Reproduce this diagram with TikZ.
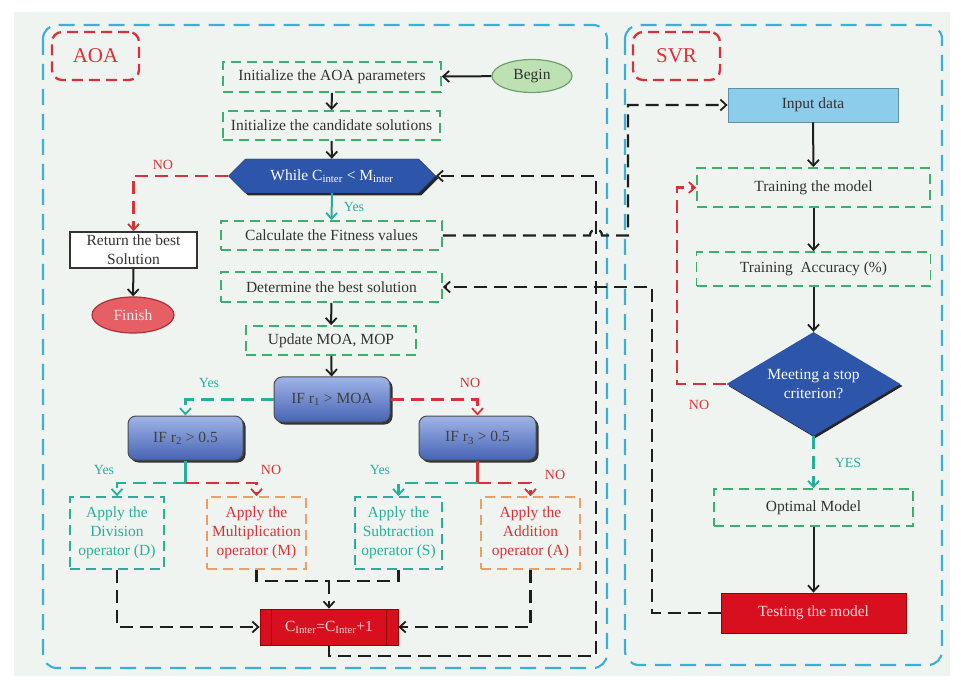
\documentclass[tikz,border=0pt]{standalone}
\usepackage{fontspec}
\setmainfont{Liberation Serif}
\usetikzlibrary{arrows.meta,shapes.geometric,shapes.symbols,shadows}
\definecolor{bgc}{RGB}{240,244,240}
\definecolor{frameblue}{RGB}{60,175,215}
\definecolor{labred}{RGB}{215,50,55}
\definecolor{boxgreen}{RGB}{60,175,110}
\definecolor{tealc}{RGB}{40,175,155}
\definecolor{orangec}{RGB}{235,160,95}
\definecolor{hexblue}{RGB}{45,85,170}
\definecolor{iftop}{RGB}{160,180,230}
\definecolor{ifbot}{RGB}{70,100,180}
\definecolor{inputblue}{RGB}{140,205,235}
\definecolor{redfill}{RGB}{215,15,30}
\definecolor{beginfill}{RGB}{190,225,180}
\definecolor{beginborder}{RGB}{110,160,110}
\definecolor{finishfill}{RGB}{230,95,100}
\definecolor{finishborder}{RGB}{170,50,55}
\definecolor{txt}{RGB}{50,50,50}
\definecolor{conc}{RGB}{30,30,30}
\newcommand\myfs{\fontsize{15.5}{19}\selectfont}
\newcommand\mysmall{\fontsize{14}{16}\selectfont}
\begin{document}
\begin{tikzpicture}[x=1pt,y=-1pt,
  gbox/.style={draw=boxgreen, dash pattern=on 10pt off 6pt, line width=1.7pt, inner sep=0pt, text=txt, font=\myfs, align=center},
  tbox/.style={draw=tealc, dash pattern=on 10pt off 6pt, line width=1.7pt, inner sep=0pt, text=tealc, font=\myfs, align=center},
  obox/.style={draw=orangec, dash pattern=on 10pt off 6pt, line width=1.7pt, inner sep=0pt, text=labred, font=\myfs, align=center},
  ifbox/.style={rounded corners=8pt, top color=iftop, bottom color=ifbot, draw=black!70, line width=1pt, inner sep=0pt, text=black!75, font=\myfs,
     drop shadow={shadow xshift=2.5pt, shadow yshift=-2.5pt, fill=black!80, opacity=1}},
  redbox/.style={fill=redfill, draw=red!60!black, line width=0.8pt, inner sep=0pt, text=white!85!red, font=\myfs},
  lab/.style={draw=labred, dash pattern=on 11pt off 6pt, rounded corners=10pt, line width=2.3pt, minimum width=87pt, minimum height=48pt, text=labred, font=\fontsize{21}{24}\selectfont},
  frame/.style={draw=frameblue, dash pattern=on 16pt off 9pt, line width=2.1pt, rounded corners=14pt},
  conn/.style={line width=2.2pt, dash pattern=on 13pt off 7pt, conc},
  redconn/.style={line width=2.2pt, dash pattern=on 13pt off 7pt, labred},
  tealconn/.style={line width=2.2pt, dash pattern=on 13pt off 7pt, tealc},
  arr/.style={-{Straight Barb[length=6pt,width=11pt,line width=1.8pt]}},
  solidarr/.style={line width=2pt, conc, arr},
  tlab/.style={font=\mysmall, inner sep=0pt}
]
\useasboundingbox (0,0) rectangle (961,684);
\fill[white] (0,0) rectangle (961,684);
\fill[bgc] (14,12) rectangle (950,676);

% frames
\draw[frame] (43,25) rectangle (607,668);
\draw[frame] (625,25) rectangle (942,665);
\node[lab] (aoal) at (95.5,56) {AOA};
\node[lab] (svrl) at (676.5,56) {SVR};

% AOA nodes
\node[gbox, minimum width=218pt, minimum height=30pt] (init1) at (332,77) {Initialize the AOA parameters};
\node[ellipse, fill=beginfill, draw=beginborder, line width=1.2pt, minimum width=80pt, minimum height=33pt, inner sep=0pt, text=txt, font=\myfs] (begin) at (532,76) {Begin};
\node[gbox, minimum width=217pt, minimum height=29pt] (init2) at (331.5,125.5) {Initialize the candidate solutions};
\node[signal, signal to=west and east, signal pointer angle=90, fill=hexblue, draw=hexblue!70!black, minimum width=207pt, minimum height=34pt, inner sep=0pt, text=white, font=\myfs,
   drop shadow={shadow xshift=2.5pt, shadow yshift=-2.5pt, fill=black!85, opacity=1}] (hex) at (332,176) {While C\textsubscript{inter} < M\textsubscript{inter}};
\node[draw=black!80, fill=white, line width=1.5pt, minimum width=127pt, minimum height=36pt, inner sep=0pt, text=txt, font=\myfs, align=center] (ret) at (133.5,250) {Return the best\\Solution};
\node[ellipse, fill=finishfill, draw=finishborder, line width=1.2pt, minimum width=82pt, minimum height=36pt, inner sep=0pt, text=white!90!red, font=\myfs] (finish) at (133,315) {Finish};
\node[gbox, minimum width=221pt, minimum height=29pt] (calc) at (331.5,235.5) {Calculate the Fitness values};
\node[gbox, minimum width=221pt, minimum height=30pt] (det) at (331.5,287) {Determine the best solution};
\node[gbox, minimum width=170pt, minimum height=29pt] (upd) at (331,340.5) {Update MOA, MOP};
\node[ifbox, minimum width=116pt, minimum height=45pt] (if1) at (332,399.5) {IF r\textsubscript{1} > MOA};
\node[ifbox, minimum width=115pt, minimum height=44pt] (if2) at (185.5,438) {IF r\textsubscript{2} > 0.5};
\node[ifbox, minimum width=117pt, minimum height=44pt] (if3) at (477.5,438) {IF r\textsubscript{3} > 0.5};
\node[tbox, minimum width=94pt, minimum height=72pt] (div) at (117,533) {Apply the\\Division\\operator (D)};
\node[obox, minimum width=99pt, minimum height=72pt] (mult) at (256.5,533) {Apply the\\Multiplication\\operator (M)};
\node[tbox, minimum width=87pt, minimum height=72pt] (sub) at (398.5,533) {Apply the\\Subtraction\\operator (S)};
\node[obox, minimum width=99pt, minimum height=72pt] (add) at (530.5,533) {Apply the\\Addition\\operator (A)};
\node[redbox, minimum width=138pt, minimum height=36pt] (cbox) at (329,627) {C\textsubscript{Inter}=C\textsubscript{Inter}+1};
\draw[red!55!black, line width=0.8pt] ([xshift=12pt]cbox.north west) -- ([xshift=12pt]cbox.south west);
\draw[red!55!black, line width=0.8pt] ([xshift=-12pt]cbox.north east) -- ([xshift=-12pt]cbox.south east);

% SVR nodes
\node[fill=inputblue, draw=inputblue!70!black, line width=0.8pt, minimum width=170pt, minimum height=34pt, inner sep=0pt, text=txt, font=\myfs] (input) at (813,105) {Input data};
\node[gbox, minimum width=233pt, minimum height=39pt] (train) at (813.5,187.5) {Training the model};
\node[gbox, minimum width=234pt, minimum height=34pt] (acc) at (813.5,269) {Training\ \ Accuracy (\%)};
\node[diamond, aspect=1.67, fill=hexblue, minimum width=174pt, minimum height=104pt, inner sep=0pt, text=white, align=center, font=\myfs,
   drop shadow={shadow xshift=2pt, shadow yshift=-2pt, fill=black!85, opacity=1}] (dia) at (813.5,384) {Meeting a stop\\criterion?};
\node[gbox, minimum width=199pt, minimum height=37pt] (opt) at (813.5,507.5) {Optimal Model};
\node[redbox, minimum width=185pt, minimum height=40pt] (test) at (813.5,613) {Testing the model};

% labels
\node[tlab, text=labred] (no1) at (163,165) {NO};
\node[tlab, text=tealc] (yes1) at (354,207) {Yes};
\node[tlab, text=tealc] (yes2) at (209,383) {Yes};
\node[tlab, text=labred] (no2) at (470,383) {NO};
\node[tlab, text=tealc] (yes3) at (104,470) {Yes};
\node[tlab, text=labred] (no3) at (271,470) {NO};
\node[tlab, text=tealc] (yes4) at (380,470) {Yes};
\node[tlab, text=labred] (no4) at (555,475) {NO};
\node[tlab, text=labred] (no5) at (699,405) {NO};
\node[tlab, text=tealc] (yes5) at (848,463) {YES};

% coordinates
\coordinate (b2) at (185.5,483);
\coordinate (b3) at (477.5,483);
\coordinate (jm) at (329,581);
\coordinate (loopc) at (596,656);
\coordinate (hopa) at (590,235.5);
\coordinate (hopb) at (602,235.5);
\coordinate (hopc) at (628,235.5);
\coordinate (tc) at (652,287);
\coordinate (nc) at (677,187.5);

% AOA connectors
\draw[solidarr] (begin) -- (init1);
\draw[solidarr] (init1) -- (init2);
\draw[solidarr] (init2) -- (hex);
\draw[redconn, arr] (hex.west) -| (ret.north);
\draw[line width=2pt, tealc, arr] (hex.south) -- (calc.north);
\draw[solidarr] (ret) -- (finish);
\draw[solidarr] (det) -- (upd);
\draw[solidarr] (upd) -- (if1);
\draw[tealconn, arr] (if1.west) -| (if2.north);
\draw[redconn, arr] (if1.east) -| (if3.north);
\draw[line width=2.2pt, tealc] (if2.south) -- (b2);
\draw[tealconn, arr] (b2) -| (div.north);
\draw[redconn, arr] (b2) -| (mult.north);
\draw[line width=2.2pt, labred] (if3.south) -- (b3);
\draw[tealconn, arr] (b3) -| (sub.north);
\draw[redconn, arr] (b3) -| (add.north);
\draw[conn, arr] (div.south) |- (cbox.west);
\draw[conn] (mult.south) |- (jm);
\draw[conn] (sub.south) |- (jm);
\draw[conn, arr] (jm) -- (cbox.north);
\draw[conn, arr] (add.south) |- (cbox.east);
\draw[conn, arr] (cbox.south) |- (loopc) |- (hex.east);
\draw[conn, arr] (calc.east) -- (hopa) .. controls (590,227.5) and (602,227.5) .. (hopb) -- (hopc) |- (input.west);
\draw[conn, arr] (test.west) -| (tc) -- (det.east);

% SVR connectors
\draw[solidarr] (input) -- (train);
\draw[solidarr] (train) -- (acc);
\draw[solidarr] (acc) -- (dia);
\draw[redconn, arr] (dia.west) -| (nc) -- (train.west);
\draw[tealconn, arr] (dia.south) -- (opt.north);
\draw[solidarr] (opt) -- (test);
\end{tikzpicture}
\end{document}
